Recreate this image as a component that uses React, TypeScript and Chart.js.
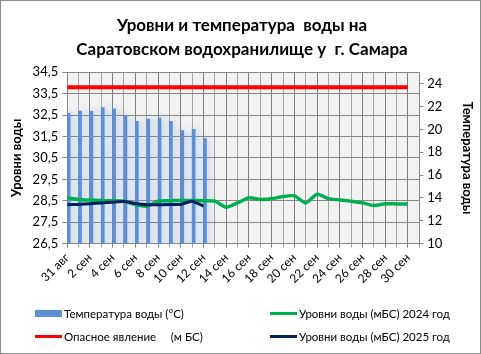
import React, { useEffect, useRef } from 'react';
import { Chart, registerables } from 'chart.js';

Chart.register(...registerables);

const FONT = "Lato, 'Open Sans', 'DejaVu Sans', sans-serif";

const titleLines = ['Уровни и температура  воды на', 'Саратовском водохранилище у  г. Самара'];

const dates = [
  '31 авг', '1 сен', '2 сен', '3 сен', '4 сен', '5 сен', '6 сен', '7 сен', '8 сен', '9 сен',
  '10 сен', '11 сен', '12 сен', '13 сен', '14 сен', '15 сен', '16 сен', '17 сен', '18 сен', '19 сен',
  '20 сен', '21 сен', '22 сен', '23 сен', '24 сен', '25 сен', '26 сен', '27 сен', '28 сен', '29 сен', '30 сен',
];

const temperature = [21.4, 21.6, 21.6, 21.9, 21.8, 21.2, 20.7, 20.9, 21.0, 20.7, 19.9, 20.0, 19.2];

const level2024 = [
  28.64, 28.56, 28.53, 28.51, 28.5, 28.48, 28.33, 28.25, 28.48, 28.5,
  28.51, 28.51, 28.5, 28.48, 28.2, 28.4, 28.64, 28.56, 28.59, 28.7,
  28.73, 28.4, 28.8, 28.6, 28.54, 28.48, 28.4, 28.28, 28.36, 28.35, 28.35,
];

const level2025 = [28.31, 28.33, 28.36, 28.4, 28.43, 28.46, 28.37, 28.31, 28.31, 28.32, 28.33, 28.48, 28.25];

const danger = [
  33.8, 33.8, 33.8, 33.8, 33.8, 33.8, 33.8, 33.8, 33.8, 33.8,
  33.8, 33.8, 33.8, 33.8, 33.8, 33.8, 33.8, 33.8, 33.8, 33.8,
  33.8, 33.8, 33.8, 33.8, 33.8, 33.8, 33.8, 33.8, 33.8, 33.8, 33.8,
];

const legendItems = [
  { label: 'Температура воды (°С)', color: '#5b8fd6', kind: 'rect', col: 0, row: 0 },
  { label: 'Уровни воды (мБС) 2024 год', color: '#00b050', kind: 'line', col: 1, row: 0 },
  { label: 'Опасное явление     (м БС)', color: '#ff0000', kind: 'line', col: 0, row: 1 },
  { label: 'Уровни воды (мБС) 2025 год', color: '#002060', kind: 'line', col: 1, row: 1 },
];

const pts = (arr: number[]) => arr.map((y, i) => ({ x: i, y }));

export default function App() {
  const ref = useRef<HTMLCanvasElement>(null);

  useEffect(() => {
    const bg = {
      id: 'plotBg',
      beforeDraw(chart: any) {
        const { ctx, chartArea: a } = chart;
        ctx.save();
        ctx.fillStyle = '#f2f2f2';
        ctx.fillRect(a.left, a.top, a.right - a.left, a.bottom - a.top);
        ctx.restore();
      },
    };
    const glow = {
      id: 'barGlow',
      beforeDatasetDraw(chart: any, args: any) {
        if (chart.data.datasets[args.index].type !== 'bar') return;
        const ctx = chart.ctx;
        ctx.save();
        ctx.shadowColor = 'rgba(120,160,220,0.5)';
        ctx.shadowBlur = 7;
        ctx.shadowOffsetX = 2;
        ctx.shadowOffsetY = 0;
      },
      afterDatasetDraw(chart: any, args: any) {
        if (chart.data.datasets[args.index].type !== 'bar') return;
        chart.ctx.restore();
      },
    };

    const chart = new Chart(ref.current as HTMLCanvasElement, {
      type: 'bar',
      data: {
        datasets: [
          {
            type: 'line', label: 'Опасное явление', data: pts(danger) as any,
            borderColor: '#ff0000', borderWidth: 4, pointRadius: 0, xAxisID: 'x', yAxisID: 'y', order: 1,
          },
          {
            type: 'line', label: '2024', data: pts(level2024) as any,
            borderColor: '#00b050', borderWidth: 3.5, pointRadius: 0, tension: 0.2, xAxisID: 'x', yAxisID: 'y', order: 2,
          },
          {
            type: 'line', label: '2025', data: pts(level2025) as any,
            borderColor: '#002060', borderWidth: 3, pointRadius: 0, tension: 0.2, xAxisID: 'x', yAxisID: 'y', order: 0,
          },
          {
            type: 'bar', label: 'Температура воды', data: pts(temperature) as any,
            backgroundColor: '#5b8fd6', barThickness: 3, xAxisID: 'x2', yAxisID: 'y2', order: 10,
          } as any,
        ],
      },
      options: {
        responsive: false,
        animation: false,
        devicePixelRatio: 1,
        layout: { padding: { left: 5, right: 2, top: 2, bottom: 65 } },
        plugins: {
          legend: { display: false },
          tooltip: { enabled: false },
          title: {
            display: true,
            text: titleLines,
            color: '#000',
            font: { family: FONT, size: 17, weight: 'bold', lineHeight: 1.42 },
            padding: { top: 11, bottom: 11 },
          },
        },
        scales: {
          x: {
            type: 'linear', position: 'bottom', min: 0, max: 31, offset: false,
            ticks: {
              stepSize: 1, autoSkip: false, maxRotation: 45, minRotation: 45, color: '#000',
              font: { family: FONT, size: 12 },
              callback: (v: any) => (v % 2 === 0 && v <= 30 ? dates[v] : ''),
            },
            grid: {
              offset: false,
              color: (c: any) => (c.index % 2 === 0 ? '#7f7f7f' : '#a6a6a6'),
              tickLength: 4,
            },
            border: { color: '#868686' },
          },
          x2: { type: 'linear', display: false, min: 0, max: 31, offset: false, grid: { offset: false } },
          y: {
            position: 'left', min: 26.5, max: 34.5,
            ticks: {
              stepSize: 1, color: '#000', padding: 4,
              font: { family: FONT, size: 13 },
              callback: (v: any) => Number(v).toFixed(1).replace('.', ','),
            },
            grid: { color: '#868686', tickLength: 5 },
            border: { color: '#868686' },
            title: { display: true, text: 'Уровни воды', color: '#000', font: { family: FONT, size: 13, weight: 'bold' } },
          },
          y2: {
            position: 'right', min: 10, max: 25,
            ticks: { stepSize: 2, includeBounds: false, color: '#000', padding: 4, font: { family: FONT, size: 13 } },
            grid: { drawOnChartArea: false, color: '#868686', tickLength: 4 },
            border: { color: '#868686' },
            title: {
              display: true, text: 'Температура воды', color: '#000',
              font: { family: FONT, size: 13, weight: 'bold' }, padding: { top: 4, bottom: 13 },
            },
          },
        },
      } as any,
      plugins: [bg, glow],
    });
    return () => chart.destroy();
  }, []);

  return (
    <div style={{ position: 'fixed', left: 0, top: 0, width: 481, height: 354, background: '#fff', overflow: 'hidden' }}>
      <canvas ref={ref} width={481} height={354} style={{ position: 'absolute', left: 0, top: 0 }} />
      {legendItems.map((it, i) => (
        <div
          key={i}
          style={{
            position: 'absolute', left: it.col === 0 ? 35 : 270, top: it.row === 0 ? 305 : 328, height: 16,
            display: 'flex', alignItems: 'center', fontFamily: FONT, fontSize: 11.5, color: '#000', whiteSpace: 'pre',
          }}
        >
          <span
            style={{
              display: 'inline-block', width: 27, height: it.kind === 'rect' ? 7 : 3,
              background: it.color, marginRight: 2,
            }}
          />
          <span>{it.label}</span>
        </div>
      ))}
      <div style={{ position: 'absolute', left: 0, top: 0, width: 481, height: 354, boxSizing: 'border-box', border: '1px solid #8c8c8c', pointerEvents: 'none' }} />
    </div>
  );
}
